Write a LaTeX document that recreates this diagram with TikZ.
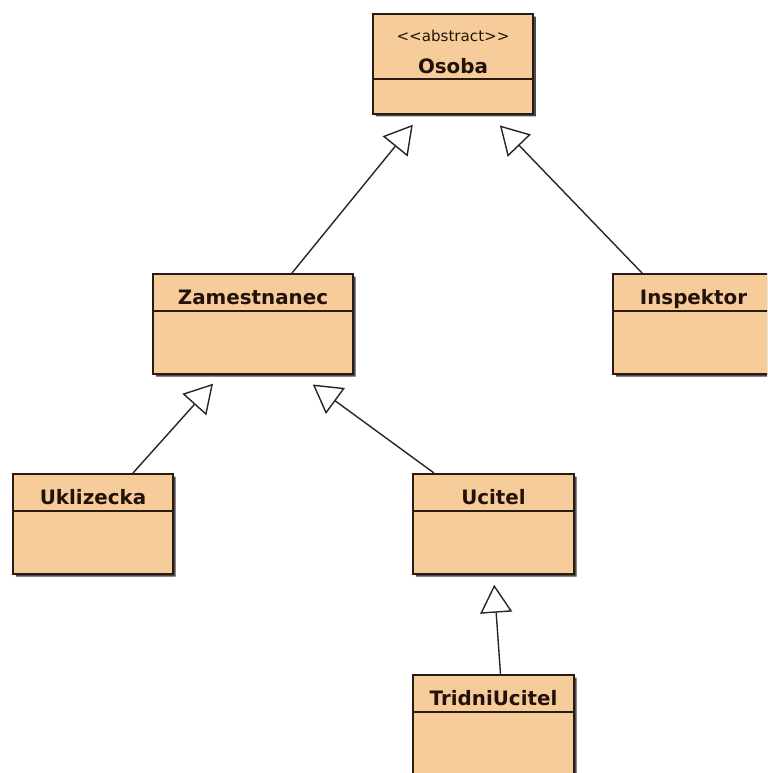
\documentclass[tikz,border=0pt]{standalone}
\usepackage{fontspec}
\setmainfont{DejaVu Sans}
\usetikzlibrary{arrows.meta, shapes.multipart, shadows}

\definecolor{classfill}{RGB}{247,204,155}
\definecolor{classline}{RGB}{42,26,18}
\definecolor{classtext}{RGB}{34,18,10}

% class name compartment: fixed height, name on the baseline
\newcommand{\umlhead}[1]{\rule[-0.11cm]{0pt}{0.7cm}\textbf{#1}}
\newcommand{\umlbody}[1]{\rule{0pt}{#1}}

\begin{document}
\begin{tikzpicture}[x=0.02cm, y=-0.02cm]
  \tikzstyle{umlclass} = [draw=classline, fill=classfill, line width=1.1pt, text=classtext,
    rectangle split, rectangle split parts=2, inner sep=0pt, align=center, anchor=north,
    font=\fontsize{11.3}{18.14}\selectfont,
    drop shadow={shadow xshift=0.055cm, shadow yshift=-0.055cm, fill=black!70, opacity=1}];
  \tikzstyle{inherits} = [draw=black!85, line width=0.8pt,
    -{Triangle[open, length=0.56cm, width=0.64cm]}];

  \path[use as bounding box, clip] (0,0) rectangle (767,773);

  \node[umlclass, text width=3.21cm] (osoba) at (453,13)
    {\rule{0pt}{0.53cm}{\fontsize{8.6}{9}\selectfont <{}<abstract>{}>}\\
     \textbf{Osoba}\rule[-0.09cm]{0pt}{0.09cm}
     \nodepart{two}\umlbody{0.66cm}};

  \node[umlclass, text width=4cm] (zamestnanec) at (253,273)
    {\umlhead{Zamestnanec}\nodepart{two}\umlbody{1.22cm}};
  \node[umlclass, text width=3.22cm] (inspektor) at (693.5,273)
    {\umlhead{Inspektor}\nodepart{two}\umlbody{1.22cm}};
  \node[umlclass, text width=3.2cm] (uklizecka) at (93,473)
    {\umlhead{Uklizecka}\nodepart{two}\umlbody{1.22cm}};
  \node[umlclass, text width=3.22cm] (ucitel) at (493.5,473)
    {\umlhead{Ucitel}\nodepart{two}\umlbody{1.22cm}};
  \node[umlclass, text width=3.22cm] (tridniucitel) at (493.5,674)
    {\umlhead{TridniUcitel}\nodepart{two}\umlbody{1.22cm}};

  % generalisations
  \draw[inherits, shorten >=0.26cm] ([xshift=0.78cm]zamestnanec.north) -- ([xshift=-0.64cm]osoba.south);
  \draw[inherits, shorten >=0.3cm] ([xshift=-1.03cm]inspektor.north) -- ([xshift=0.73cm]osoba.south);
  \draw[inherits, shorten >=0.24cm] ([xshift=0.8cm]uklizecka.north) -- ([xshift=-0.64cm]zamestnanec.south);
  \draw[inherits, shorten >=0.33cm] ([xshift=-1.19cm]ucitel.north) -- ([xshift=0.93cm]zamestnanec.south);
  \draw[inherits, shorten >=0.2cm] ([xshift=0.14cm]tridniucitel.north) -- (ucitel.south);
\end{tikzpicture}
\end{document}
